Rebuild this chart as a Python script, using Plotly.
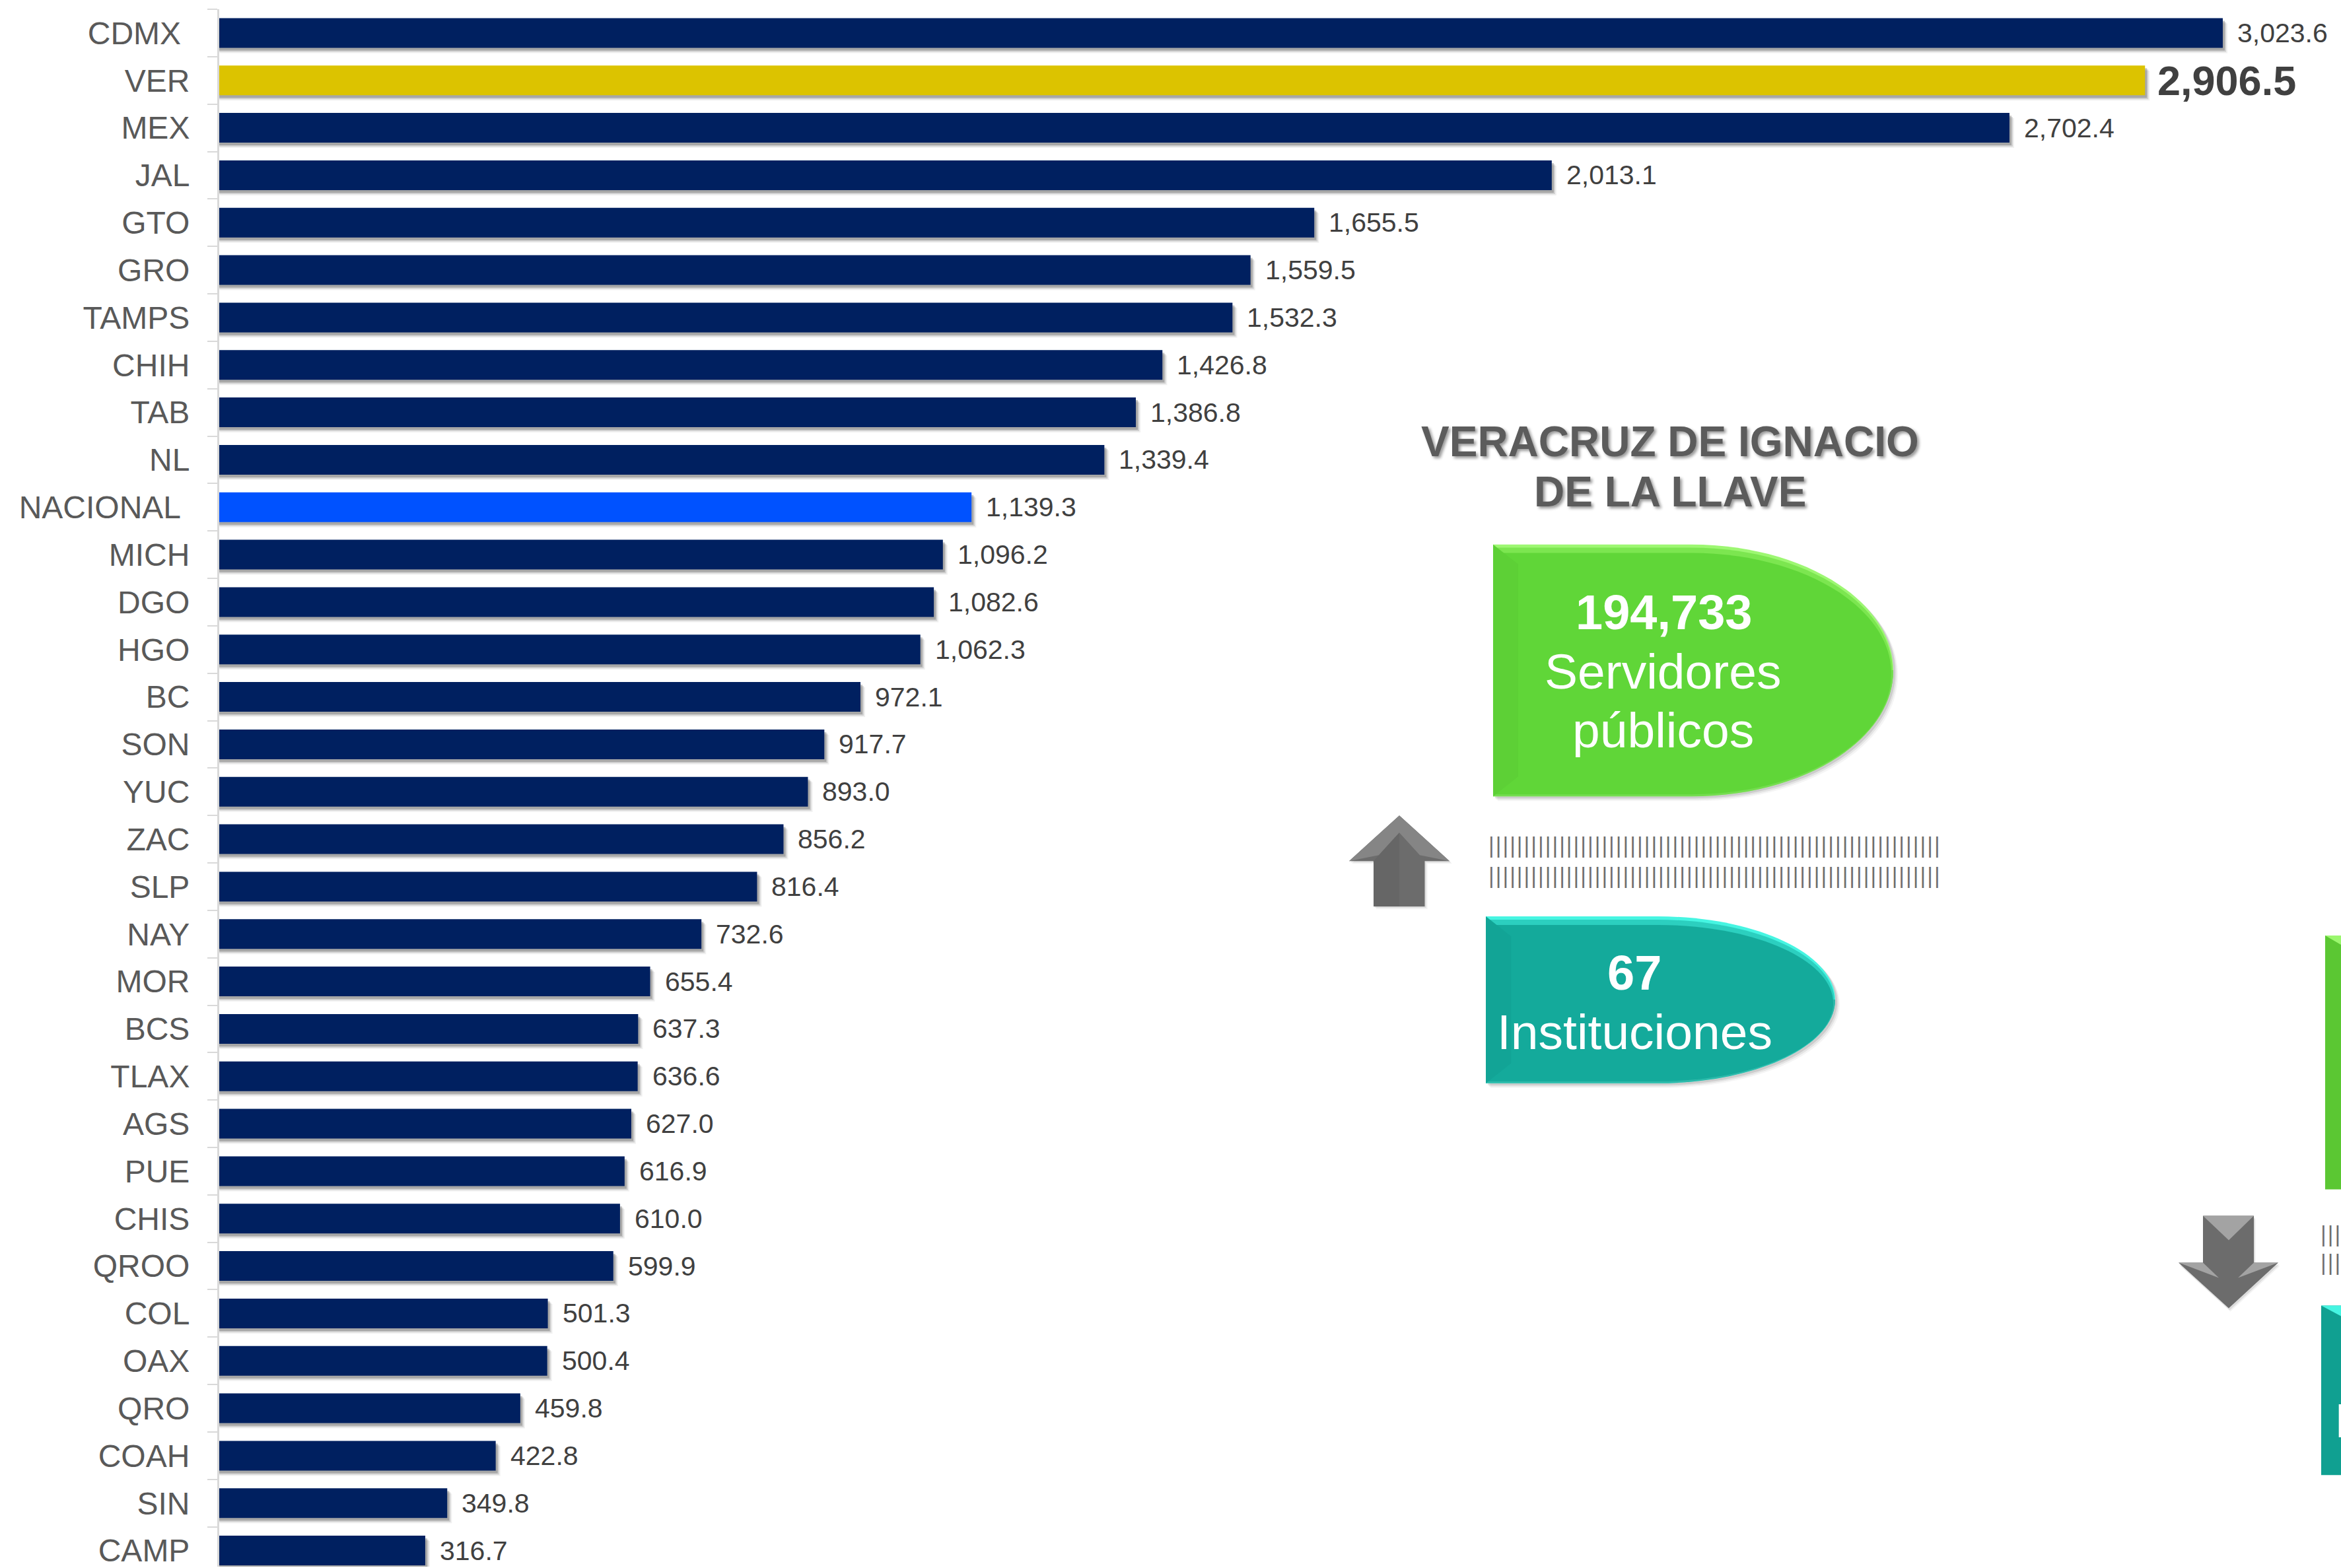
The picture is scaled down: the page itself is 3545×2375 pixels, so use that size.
import plotly.graph_objects as go

categories = ["CDMX","VER","MEX","JAL","GTO","GRO","TAMPS","CHIH","TAB","NL","NACIONAL","MICH","DGO","HGO","BC","SON","YUC","ZAC","SLP","NAY","MOR","BCS","TLAX","AGS","PUE","CHIS","QROO","COL","OAX","QRO","COAH","SIN","CAMP"]
values = [3023.6,2906.5,2702.4,2013.1,1655.5,1559.5,1532.3,1426.8,1386.8,1339.4,1139.3,1096.2,1082.6,1062.3,972.1,917.7,893.0,856.2,816.4,732.6,655.4,637.3,636.6,627.0,616.9,610.0,599.9,501.3,500.4,459.8,422.8,349.8,316.7]
padded_labels = ["CDMX", "NACIONAL"]

W, H = 3545, 2375
L, T = 332, 13.5
X_ORIGIN, X_SCALE = 325.5, 1.00558
NAVY, GOLD, BLUE = "#002060", "#DCC300", "#0052FF"
FONT = "Liberation Sans"

def fx(x): return (x - L) / (W - L)
def fy(y): return 1 - (y - T) / (H - T)
def P(x, y): return f"{fx(x):.5f},{fy(y):.5f}"

colors = [GOLD if c == "VER" else BLUE if c == "NACIONAL" else NAVY for c in categories]
ticklabels = [c + "\u00a0" if c in padded_labels else c for c in categories]

fig = go.Figure()
W_BAR = 0.626
for dx, dy, a in [(7, 8, .08), (5, 6, .18), (3, 4, .3)]:
    fig.add_trace(go.Bar(y=categories, x=values, base=[dx]*len(values), orientation="h", width=W_BAR,
                         offset=-W_BAR/2 + dy/71.9, marker=dict(color=f"rgba(70,70,70,{a})", line_width=0),
                         hoverinfo="skip", showlegend=False))
fig.add_trace(go.Bar(y=categories, x=values, orientation="h", width=W_BAR, offset=-W_BAR/2,
                     marker=dict(color=colors, line_width=0), showlegend=False))

annotations = []
for c, v in zip(categories, values):
    big = c == "VER"
    annotations.append(dict(x=v, y=c, xref="x", yref="y", text=f"{v:,.1f}", showarrow=False,
                            xanchor="left", yanchor="middle", xshift=17 if big else 20, yshift=0,
                            font=dict(family=FONT, size=63 if big else 41, color="#404040",
                                      weight="bold" if big else "normal")))

def note(x, y, text, size, bold=False, color="white", family=FONT, anchor="center", shadow=None):
    f = dict(family=family, size=size, color=color, weight="bold" if bold else "normal")
    if shadow:
        f["shadow"] = shadow
    annotations.append(dict(x=fx(x), y=fy(y), xref="paper", yref="paper", text=text, showarrow=False,
                            xanchor=anchor, yanchor="middle", font=f))

shapes = []
def path(d, fill):
    shapes.append(dict(type="path", xref="paper", yref="paper", path=d, fillcolor=fill, line_width=0, layer="above"))

k = .5523
def bullet(l, t, xm, r, b):
    cy = (t + b) / 2
    rx, ry = r - xm, (b - t) / 2
    return (f"M{P(l,t)} L{P(xm,t)} C{P(xm+k*rx,t)} {P(r,cy-k*ry)} {P(r,cy)} "
            f"C{P(r,cy+k*ry)} {P(xm+k*rx,b)} {P(xm,b)} L{P(l,b)} Z")

def lower(l, t, xm, r, b):
    cy = (t + b) / 2
    rx, ry = r - xm, (b - t) / 2
    return f"M{P(l,cy)} L{P(r,cy)} C{P(r,cy+k*ry)} {P(xm+k*rx,b)} {P(xm,b)} L{P(l,b)} Z"

def pill(l, t, xm, r, b, light, mid, main, side, rim):
    for d, a in [(7, .06), (5, .1), (3, .16)]:
        path(bullet(l+d, t+d, xm+d, r+d, b+d), f"rgba(80,80,80,{a})")
    path(bullet(l, t, xm, r, b), light)
    path(lower(l, t, xm, r, b), rim)
    path(bullet(l+1, t+5, xm, r-1, b-1), mid)
    path(lower(l, t, xm, r, b-1), rim)
    path(bullet(l+2, t+13, xm, r-3, b-3), main)
    bx, by = 38, 30
    path(f"M{P(l,t)} L{P(l+bx,t+by)} L{P(l+bx,b-by)} L{P(l,b)} Z", side)

pill(2261, 825, 2561, 2867, 1207, "#9DF772", "#7CE650", "#60D638", "#5DD036", "#74DC50")
pill(2250, 1389, 2510, 2779, 1642, "#46F5E2", "#2CCFBF", "#14AA9B", "#12A496", "#2DB8A9")
# clipped shapes at the right edge
path(f"M{P(3521,1418)} L{P(3545,1418)} L{P(3545,1803)} L{P(3521,1803)} Z", "#5BC733")
path(f"M{P(3521,1418)} L{P(3545,1418)} L{P(3545,1432)} Z", "#9BF76E")
path(f"M{P(3515,1979)} L{P(3545,1979)} L{P(3545,2236)} L{P(3515,2236)} Z", "#10A091")
path(f"M{P(3515,1979)} L{P(3545,1979)} L{P(3545,1995)} Z", "#46F5E2")

def up_arrow():
    for d, a in [(4, .08), (2, .14)]:
        path(f"M{P(2119+d,1236+d)} L{P(2195+d,1305+d)} L{P(2157.5+d,1305+d)} L{P(2157.5+d,1374+d)} L{P(2080+d,1374+d)} L{P(2080+d,1305+d)} L{P(2043+d,1305+d)} Z", f"rgba(90,90,90,{a})")
    path(f"M{P(2119,1236)} L{P(2195,1305)} L{P(2157.5,1305)} L{P(2157.5,1374)} L{P(2080,1374)} L{P(2080,1305)} L{P(2043,1305)} Z", "#6C6C6C")
    path(f"M{P(2119,1236)} L{P(2195,1305)} L{P(2150,1296)} L{P(2119,1262)} L{P(2088,1296)} L{P(2043,1305)} Z", "#858585")
    path(f"M{P(2080,1305)} L{P(2088,1296)} L{P(2119,1262)} L{P(2119,1374)} L{P(2080,1374)} Z", "#666666")

def down_arrow():
    for d, a in [(5, .08), (3, .14)]:
        path(f"M{P(3336+d*.5,1843+d)} L{P(3413+d*.5,1843+d)} L{P(3413+d*.5,1914+d)} L{P(3450+d*.5,1914+d)} L{P(3375+d*.5,1983+d)} L{P(3299+d*.5,1914+d)} L{P(3336+d*.5,1914+d)} Z", f"rgba(90,90,90,{a})")
    path(f"M{P(3336,1843)} L{P(3413,1843)} L{P(3413,1914)} L{P(3450,1914)} L{P(3375,1983)} L{P(3299,1914)} L{P(3336,1914)} Z", "#6C6C6C")
    path(f"M{P(3336,1843)} L{P(3413,1843)} L{P(3375,1880)} Z", "#A3A3A3")
    path(f"M{P(3299,1914)} L{P(3336,1914)} L{P(3360,1937)} Z", "#A3A3A3")
    path(f"M{P(3450,1914)} L{P(3413,1914)} L{P(3389,1937)} Z", "#A3A3A3")

up_arrow()
down_arrow()

title_shadow = "3px 3px 4px #9a9a9a"
note(2529, 669, "VERACRUZ DE IGNACIO", 64, True, "#5c5c5c", shadow=title_shadow)
note(2529, 745, "DE LA LLAVE", 64, True, "#5c5c5c", shadow=title_shadow)

note(2520, 928, "194,733", 74, True)
note(2518, 1018, "Servidores", 75)
note(2518, 1107, "públicos", 75)
note(2475, 1475, "67", 74, True)
note(2475, 1564, "Instituciones", 75)
note(3533, 2153, "I", 73, anchor="left")

PIPE = "DejaVu Sans"
note(2596, 1281, "|" * 64, 31.8, False, "#6e6e6e", family=PIPE)
note(2596, 1327, "|" * 64, 31.8, False, "#6e6e6e", family=PIPE)
note(3511, 1870, "|||", 31.8, False, "#6e6e6e", family=PIPE, anchor="left")
note(3511, 1914, "|||", 31.8, False, "#6e6e6e", family=PIPE, anchor="left")

fig.update_layout(
    width=W, height=H, barmode="overlay", showlegend=False,
    paper_bgcolor="white", plot_bgcolor="white",
    margin=dict(l=L, r=0, t=T, b=0, pad=0),
    font=dict(family=FONT),
    annotations=annotations, shapes=shapes,
    xaxis=dict(range=[(L - X_ORIGIN) / X_SCALE, (W - X_ORIGIN) / X_SCALE], showgrid=False, zeroline=False,
               showticklabels=False, ticks="", showline=False),
    yaxis=dict(type="category", categoryorder="array", categoryarray=categories,
               range=[32.34, -0.5], tickmode="array", tickvals=categories, ticktext=ticklabels,
               tickson="boundaries", ticks="outside", ticklen=15, tickwidth=2, tickcolor="#d9d9d9",
               showline=True, linecolor="#d9d9d9", linewidth=3, showgrid=False, zeroline=False,
               ticklabelstandoff=32, tickfont=dict(family=FONT, size=48, color="#595959")),
)
fig.write_html("out.html", config=dict(displayModeBar=False),
               post_script="document.body.style.margin='0';document.body.style.overflow='hidden';")
